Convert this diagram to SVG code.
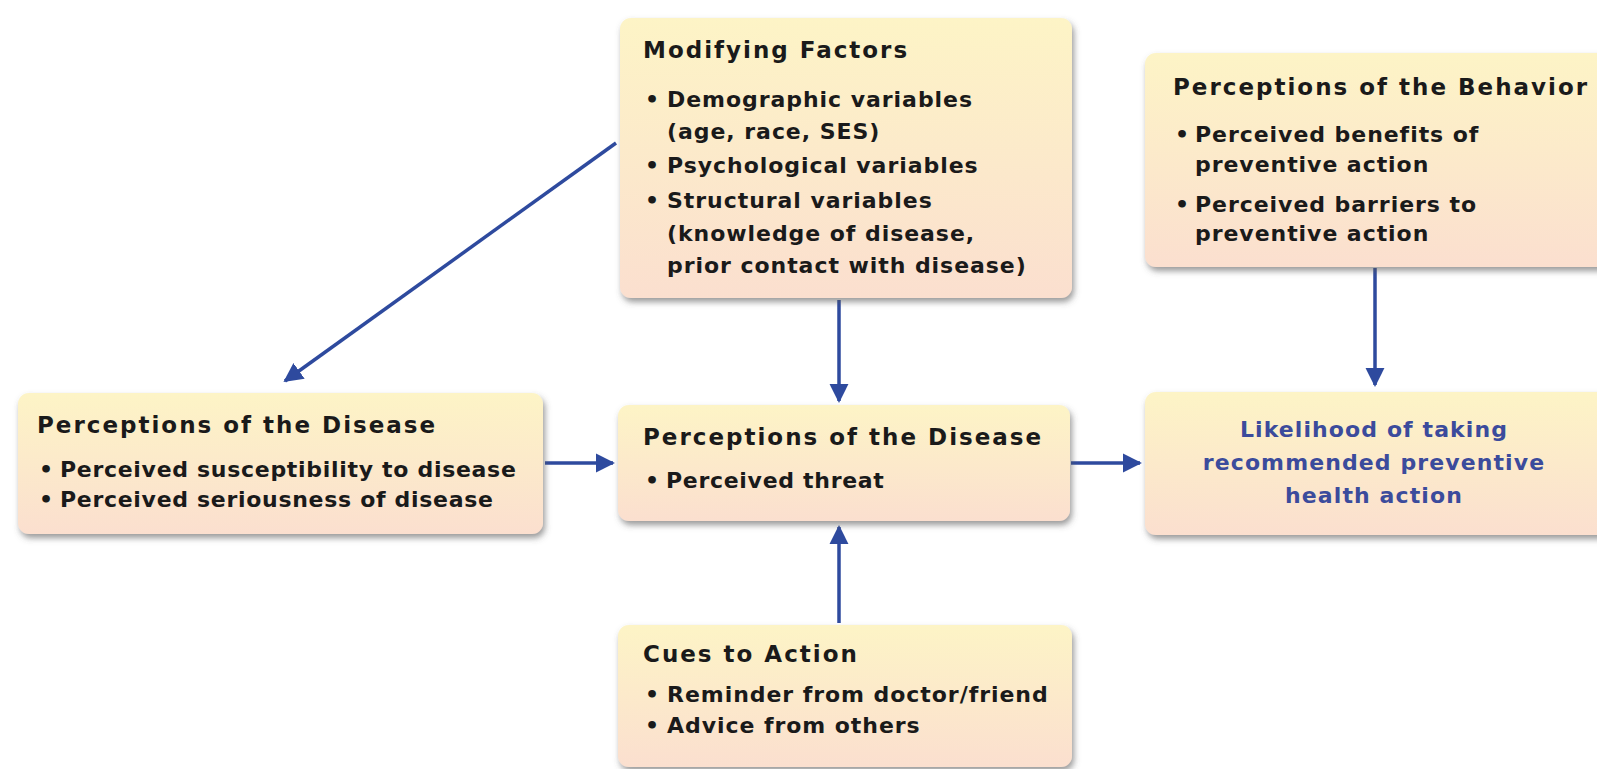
<svg xmlns="http://www.w3.org/2000/svg" width="1597" height="769" viewBox="0 0 1597 769">
<defs>
<linearGradient id="g" x1="0" y1="0" x2="0" y2="1">
<stop offset="0" stop-color="#fdf4c6"/>
<stop offset="1" stop-color="#fbdfcf"/>
</linearGradient>
<filter id="sh" x="-10%" y="-10%" width="120%" height="130%">
<feDropShadow dx="2" dy="4" stdDeviation="3" flood-color="#555" flood-opacity="0.6"/>
</filter>
<marker id="ah" viewBox="0 0 10 10" refX="9" refY="5" markerWidth="5.5" markerHeight="5.5" orient="auto" markerUnits="strokeWidth">
<path d="M0,0 L10,5 L0,10 z" fill="#2e4a9e"/>
</marker>
</defs>
<style>
.box{fill:url(#g);filter:url(#sh);}
text{font-family:"DejaVu Sans",Verdana,sans-serif;font-weight:bold;font-size:22px;letter-spacing:0.95px;fill:#1a1a1a;}
.t{font-size:23px;letter-spacing:2px;}
.b2{font-size:22px;letter-spacing:0.7px;}
.blue{fill:#3b4b9c;letter-spacing:1.1px;}
.c{stroke:#2e4a9e;stroke-width:3.5;fill:none;marker-end:url(#ah);}
</style>
<rect width="1597" height="769" fill="#ffffff"/>
<g id="connectors">
<line class="c" x1="616" y1="143" x2="285" y2="381"/>
<line class="c" x1="839" y1="300" x2="839" y2="401"/>
<line class="c" x1="839" y1="623" x2="839" y2="527"/>
<line class="c" x1="545" y1="463" x2="613" y2="463"/>
<line class="c" x1="1071" y1="463" x2="1140" y2="463"/>
<line class="c" x1="1375" y1="268" x2="1375" y2="385"/>
</g>
<g id="modifying">
<rect class="box" x="620" y="18" width="452" height="280" rx="11"/>
<text class="t" x="643" y="58">Modifying Factors</text>
<text x="645" y="107">•</text>
<text x="667" y="107">Demographic variables</text>
<text x="667" y="139">(age, race, SES)</text>
<text x="645" y="173">•</text>
<text x="667" y="173">Psychological variables</text>
<text x="645" y="208">•</text>
<text x="667" y="208">Structural variables</text>
<text x="667" y="241">(knowledge of disease,</text>
<text x="667" y="273">prior contact with disease)</text>
</g>
<g id="behavior">
<rect class="box" x="1145" y="53" width="470" height="214" rx="11"/>
<text class="t" x="1173" y="95">Perceptions of the Behavior</text>
<text x="1175" y="142">•</text>
<text x="1195" y="142">Perceived benefits of</text>
<text x="1195" y="172">preventive action</text>
<text x="1175" y="212">•</text>
<text x="1195" y="212">Perceived barriers to</text>
<text x="1195" y="241">preventive action</text>
</g>
<g id="disease-left">
<rect class="box" x="18" y="393" width="525" height="141" rx="11"/>
<text class="t" x="37" y="433">Perceptions of the Disease</text>
<text class="b2" x="39" y="477">•</text>
<text class="b2" x="60" y="477">Perceived susceptibility to disease</text>
<text class="b2" x="39" y="507">•</text>
<text class="b2" x="60" y="507">Perceived seriousness of disease</text>
</g>
<g id="disease-center">
<rect class="box" x="618" y="405" width="452" height="116" rx="11"/>
<text class="t" x="643" y="445">Perceptions of the Disease</text>
<text class="b2" x="645" y="488">•</text>
<text class="b2" x="666" y="488">Perceived threat</text>
</g>
<g id="likelihood">
<rect class="box" x="1145" y="392" width="470" height="143" rx="11"/>
<text class="blue" x="1374" y="437" text-anchor="middle">Likelihood of taking</text>
<text class="blue" x="1374" y="470" text-anchor="middle">recommended preventive</text>
<text class="blue" x="1374" y="503" text-anchor="middle">health action</text>
</g>
<g id="cues">
<rect class="box" x="618" y="625" width="454" height="142" rx="11"/>
<text class="t" x="643" y="662">Cues to Action</text>
<text x="645" y="702">•</text>
<text x="667" y="702">Reminder from doctor/friend</text>
<text x="645" y="733">•</text>
<text x="667" y="733">Advice from others</text>
</g>
</svg>
